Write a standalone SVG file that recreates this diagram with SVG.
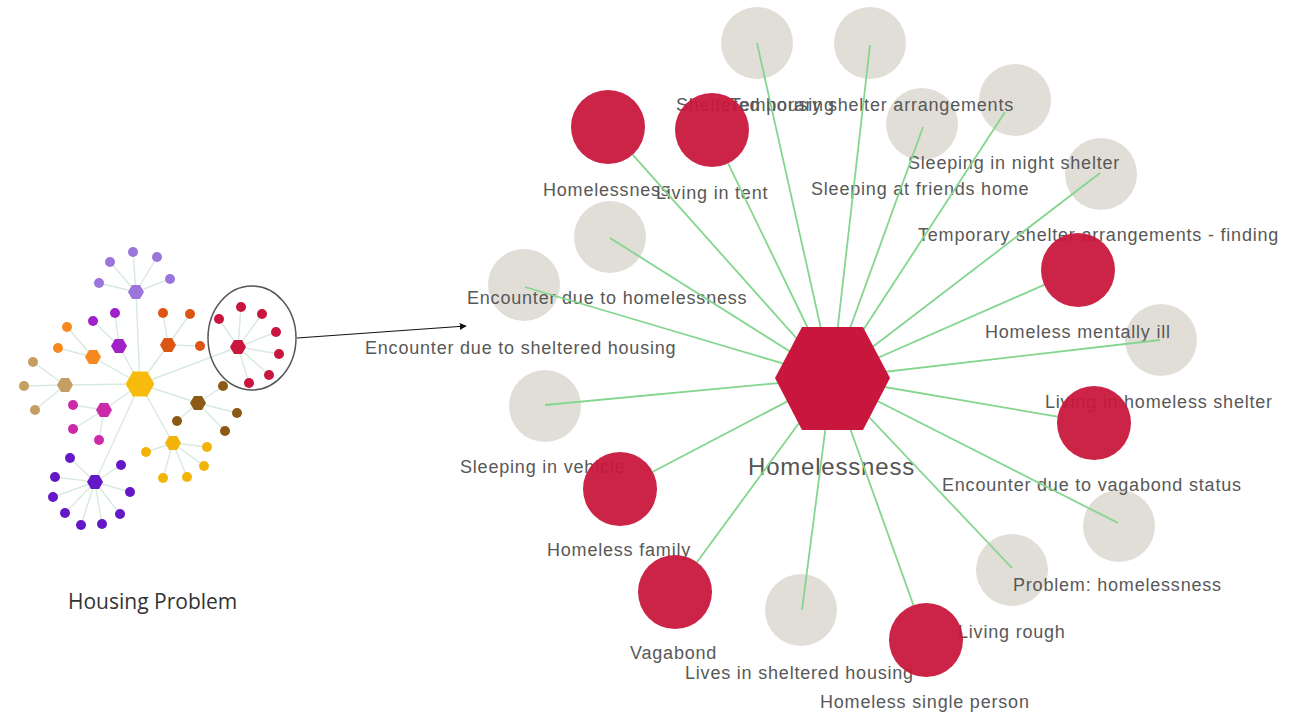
<svg xmlns="http://www.w3.org/2000/svg" width="1306" height="713" viewBox="0 0 1306 713">
<defs>
<style>
.lbl{font-family:"Liberation Sans",Arial,sans-serif;font-size:18px;letter-spacing:0.8px;fill:#585858}
.big{font-family:"Liberation Sans",Arial,sans-serif;font-size:24px;letter-spacing:0.8px;fill:#555}
.cap{font-family:"Open Sans","Noto Sans",sans-serif;font-size:21px;fill:#333}
.gry{fill:#dcd8d0;fill-opacity:0.85}
.red{fill:#c8163c;fill-opacity:0.94}
.edge{stroke:#84d68e;stroke-width:1.8;fill:none}
.sedge{stroke:#d8eadf;stroke-width:1.4;fill:none}
</style>
<polygon id="hx" points="-8,0 -4,-7 4,-7 8,0 4,7 -4,7"/>
<marker id="ah" viewBox="0 0 10 10" refX="9" refY="5" markerWidth="7" markerHeight="7" orient="auto" markerUnits="userSpaceOnUse"><path d="M0,0 L10,5 L0,10 z" fill="#111"/></marker>
</defs>
<rect width="1306" height="713" fill="#fff"/>

<!-- Left overview cluster -->
<g id="overview">
<g id="overview-edges" class="sedge">
<line x1="140" y1="384" x2="136" y2="292"/><line x1="140" y1="384" x2="119" y2="346"/><line x1="140" y1="384" x2="93" y2="357"/><line x1="140" y1="384" x2="168" y2="345"/><line x1="140" y1="384" x2="65" y2="385"/><line x1="140" y1="384" x2="104" y2="410"/><line x1="140" y1="384" x2="198" y2="403"/><line x1="140" y1="384" x2="173" y2="443"/><line x1="140" y1="384" x2="95" y2="482"/><line x1="140" y1="384" x2="238" y2="347"/>
<line x1="136" y1="292" x2="110" y2="262"/><line x1="136" y1="292" x2="133" y2="252"/><line x1="136" y1="292" x2="157" y2="257"/><line x1="136" y1="292" x2="170" y2="279"/><line x1="136" y1="292" x2="99" y2="283"/>
<line x1="119" y1="346" x2="93" y2="321"/><line x1="119" y1="346" x2="115" y2="313"/>
<line x1="93" y1="357" x2="67" y2="327"/><line x1="93" y1="357" x2="58" y2="348"/>
<line x1="168" y1="345" x2="163" y2="313"/><line x1="168" y1="345" x2="190" y2="314"/><line x1="168" y1="345" x2="200" y2="346"/>
<line x1="65" y1="385" x2="33" y2="362"/><line x1="65" y1="385" x2="24" y2="386"/><line x1="65" y1="385" x2="35" y2="410"/>
<line x1="104" y1="410" x2="73" y2="405"/><line x1="104" y1="410" x2="73" y2="429"/><line x1="104" y1="410" x2="99" y2="440"/>
<line x1="198" y1="403" x2="223" y2="386"/><line x1="198" y1="403" x2="237" y2="413"/><line x1="198" y1="403" x2="225" y2="431"/><line x1="198" y1="403" x2="177" y2="421"/>
<line x1="173" y1="443" x2="146" y2="452"/><line x1="173" y1="443" x2="163" y2="478"/><line x1="173" y1="443" x2="187" y2="477"/><line x1="173" y1="443" x2="204" y2="466"/><line x1="173" y1="443" x2="207" y2="447"/>
<line x1="95" y1="482" x2="70" y2="458"/><line x1="95" y1="482" x2="121" y2="465"/><line x1="95" y1="482" x2="55" y2="477"/><line x1="95" y1="482" x2="53" y2="497"/><line x1="95" y1="482" x2="65" y2="513"/><line x1="95" y1="482" x2="81" y2="525"/><line x1="95" y1="482" x2="102" y2="524"/><line x1="95" y1="482" x2="120" y2="514"/><line x1="95" y1="482" x2="130" y2="492"/>
<line x1="238" y1="347" x2="219" y2="319"/><line x1="238" y1="347" x2="241" y2="307"/><line x1="238" y1="347" x2="262" y2="314"/><line x1="238" y1="347" x2="276" y2="332"/><line x1="238" y1="347" x2="279" y2="354"/><line x1="238" y1="347" x2="269" y2="375"/><line x1="238" y1="347" x2="249" y2="383"/>
</g>
<g id="ov-center"><use href="#hx" transform="translate(140,384) scale(1.8)" fill="#f7bb0b"/></g>
<g id="ov-lavender" fill="#9b74dc"><use href="#hx" x="136" y="292"/><circle cx="110" cy="262" r="5"/><circle cx="133" cy="252" r="5"/><circle cx="157" cy="257" r="5"/><circle cx="170" cy="279" r="5"/><circle cx="99" cy="283" r="5"/></g>
<g id="ov-violet" fill="#a021c8"><use href="#hx" x="119" y="346"/><circle cx="93" cy="321" r="5"/><circle cx="115" cy="313" r="5"/></g>
<g id="ov-orange" fill="#f5891f"><use href="#hx" x="93" y="357"/><circle cx="67" cy="327" r="5"/><circle cx="58" cy="348" r="5"/></g>
<g id="ov-darkorange" fill="#dc5512"><use href="#hx" x="168" y="345"/><circle cx="163" cy="313" r="5"/><circle cx="190" cy="314" r="5"/><circle cx="200" cy="346" r="5"/></g>
<g id="ov-tan" fill="#c59f62"><use href="#hx" x="65" y="385"/><circle cx="33" cy="362" r="5"/><circle cx="24" cy="386" r="5"/><circle cx="35" cy="410" r="5"/></g>
<g id="ov-magenta" fill="#cc2aa8"><use href="#hx" x="104" y="410"/><circle cx="73" cy="405" r="5"/><circle cx="73" cy="429" r="5"/><circle cx="99" cy="440" r="5"/></g>
<g id="ov-brown" fill="#8c5a14"><use href="#hx" x="198" y="403"/><circle cx="223" cy="386" r="5"/><circle cx="237" cy="413" r="5"/><circle cx="225" cy="431" r="5"/><circle cx="177" cy="421" r="5"/></g>
<g id="ov-gold" fill="#f3b40a"><use href="#hx" x="173" y="443"/><circle cx="146" cy="452" r="5"/><circle cx="163" cy="478" r="5"/><circle cx="187" cy="477" r="5"/><circle cx="204" cy="466" r="5"/><circle cx="207" cy="447" r="5"/></g>
<g id="ov-indigo" fill="#6418c8"><use href="#hx" x="95" y="482"/><circle cx="70" cy="458" r="5"/><circle cx="121" cy="465" r="5"/><circle cx="55" cy="477" r="5"/><circle cx="53" cy="497" r="5"/><circle cx="65" cy="513" r="5"/><circle cx="81" cy="525" r="5"/><circle cx="102" cy="524" r="5"/><circle cx="120" cy="514" r="5"/><circle cx="130" cy="492" r="5"/></g>
<g id="ov-red" fill="#c8163c"><use href="#hx" x="238" y="347"/><circle cx="219" cy="319" r="5"/><circle cx="241" cy="307" r="5"/><circle cx="262" cy="314" r="5"/><circle cx="276" cy="332" r="5"/><circle cx="279" cy="354" r="5"/><circle cx="269" cy="375" r="5"/><circle cx="249" cy="383" r="5"/></g>
<g id="ov-highlight"><ellipse cx="252" cy="338" rx="44" ry="52" fill="none" stroke="#555" stroke-width="1.5"/></g>
<g id="ov-caption"><text class="cap" x="68" y="609">Housing Problem</text></g>
</g>

<g id="zoom-arrow"><line x1="297" y1="338" x2="466" y2="326" stroke="#111" stroke-width="1.2" marker-end="url(#ah)"/></g>

<!-- Gray nodes -->
<g id="gray-nodes">
<g id="n-sheltered-housing"><circle class="gry" cx="757" cy="43" r="36"/></g>
<g id="n-temp-arrangements"><circle class="gry" cx="870" cy="43" r="36"/></g>
<g id="n-friends-home"><circle class="gry" cx="922" cy="124" r="36"/></g>
<g id="n-night-shelter"><circle class="gry" cx="1015" cy="100" r="36"/></g>
<g id="n-temp-finding"><circle class="gry" cx="1101" cy="174" r="36"/></g>
<g id="n-mentally-ill-g"><circle class="gry" cx="1161" cy="340" r="36"/></g>
<g id="n-vagabond-status"><circle class="gry" cx="1119" cy="526" r="36"/></g>
<g id="n-problem"><circle class="gry" cx="1012" cy="570" r="36"/></g>
<g id="n-lives-sheltered"><circle class="gry" cx="801" cy="610" r="36"/></g>
<g id="n-vehicle"><circle class="gry" cx="545" cy="406" r="36"/></g>
<g id="n-enc-homelessness"><circle class="gry" cx="524" cy="285" r="36"/></g>
<g id="n-enc-sheltered"><circle class="gry" cx="610" cy="237" r="36"/></g>
</g>

<!-- Labels -->
<g id="labels">
<text class="lbl" x="543" y="196">Homelessness</text>
<text class="lbl" x="656" y="199">Living in tent</text>
<text class="lbl" x="676" y="111">Sheltered housing</text>
<text class="lbl" x="1014" y="111" text-anchor="end">Temporary shelter arrangements</text>
<text class="lbl" x="811" y="195">Sleeping at friends home</text>
<text class="lbl" x="908" y="169">Sleeping in night shelter</text>
<text class="lbl" x="918" y="241">Temporary shelter arrangements - finding</text>
<text class="lbl" x="985" y="338">Homeless mentally ill</text>
<text class="lbl" x="1045" y="408">Living in homeless shelter</text>
<text class="lbl" x="942" y="491">Encounter due to vagabond status</text>
<text class="lbl" x="1013" y="591">Problem: homelessness</text>
<text class="lbl" x="958" y="638">Living rough</text>
<text class="lbl" x="820" y="708">Homeless single person</text>
<text class="lbl" x="685" y="679">Lives in sheltered housing</text>
<text class="lbl" x="630" y="659">Vagabond</text>
<text class="lbl" x="547" y="556">Homeless family</text>
<text class="lbl" x="460" y="473">Sleeping in vehicle</text>
<text class="lbl" x="467" y="304">Encounter due to homelessness</text>
<text class="lbl" x="365" y="354">Encounter due to sheltered housing</text>
<text class="big" x="748" y="475">Homelessness</text>
</g>

<!-- Connectors -->
<g id="connectors" class="edge">
<line x1="832" y1="378" x2="757" y2="43"/>
<line x1="832" y1="378" x2="870" y2="45"/>
<line x1="832" y1="378" x2="923" y2="127"/>
<line x1="832" y1="378" x2="1005" y2="112"/>
<line x1="832" y1="378" x2="1100" y2="173"/>
<line x1="832" y1="378" x2="1160" y2="340"/>
<line x1="832" y1="378" x2="1118" y2="523"/>
<line x1="832" y1="378" x2="1012" y2="568"/>
<line x1="832" y1="378" x2="802" y2="610"/>
<line x1="832" y1="378" x2="545" y2="405"/>
<line x1="832" y1="378" x2="525" y2="287"/>
<line x1="832" y1="378" x2="610" y2="238"/>
<line x1="832" y1="378" x2="632.6" y2="154.6"/>
<line x1="832" y1="378" x2="728.1" y2="163.3"/>
<line x1="832" y1="378" x2="1044.1" y2="284.9"/>
<line x1="832" y1="378" x2="1057.5" y2="416.7"/>
<line x1="832" y1="378" x2="913.5" y2="605.2"/>
<line x1="832" y1="378" x2="696.9" y2="562.2"/>
<line x1="832" y1="378" x2="652.8" y2="471.8"/>
</g>

<!-- Red nodes -->
<g id="red-nodes">
<g id="n-homelessness"><circle class="red" cx="608" cy="127" r="37"/></g>
<g id="n-living-tent"><circle class="red" cx="712" cy="130" r="37"/></g>
<g id="n-mentally-ill"><circle class="red" cx="1078" cy="270" r="37"/></g>
<g id="n-homeless-shelter"><circle class="red" cx="1094" cy="423" r="37"/></g>
<g id="n-living-rough"><circle class="red" cx="926" cy="640" r="37"/></g>
<g id="n-vagabond"><circle class="red" cx="675" cy="592" r="37"/></g>
<g id="n-family"><circle class="red" cx="620" cy="489" r="37"/></g>
</g>

<g id="hub"><polygon points="775,378 802,327 863,327 890,378 863,430 802,430" fill="#c8163c"/></g>
</svg>
